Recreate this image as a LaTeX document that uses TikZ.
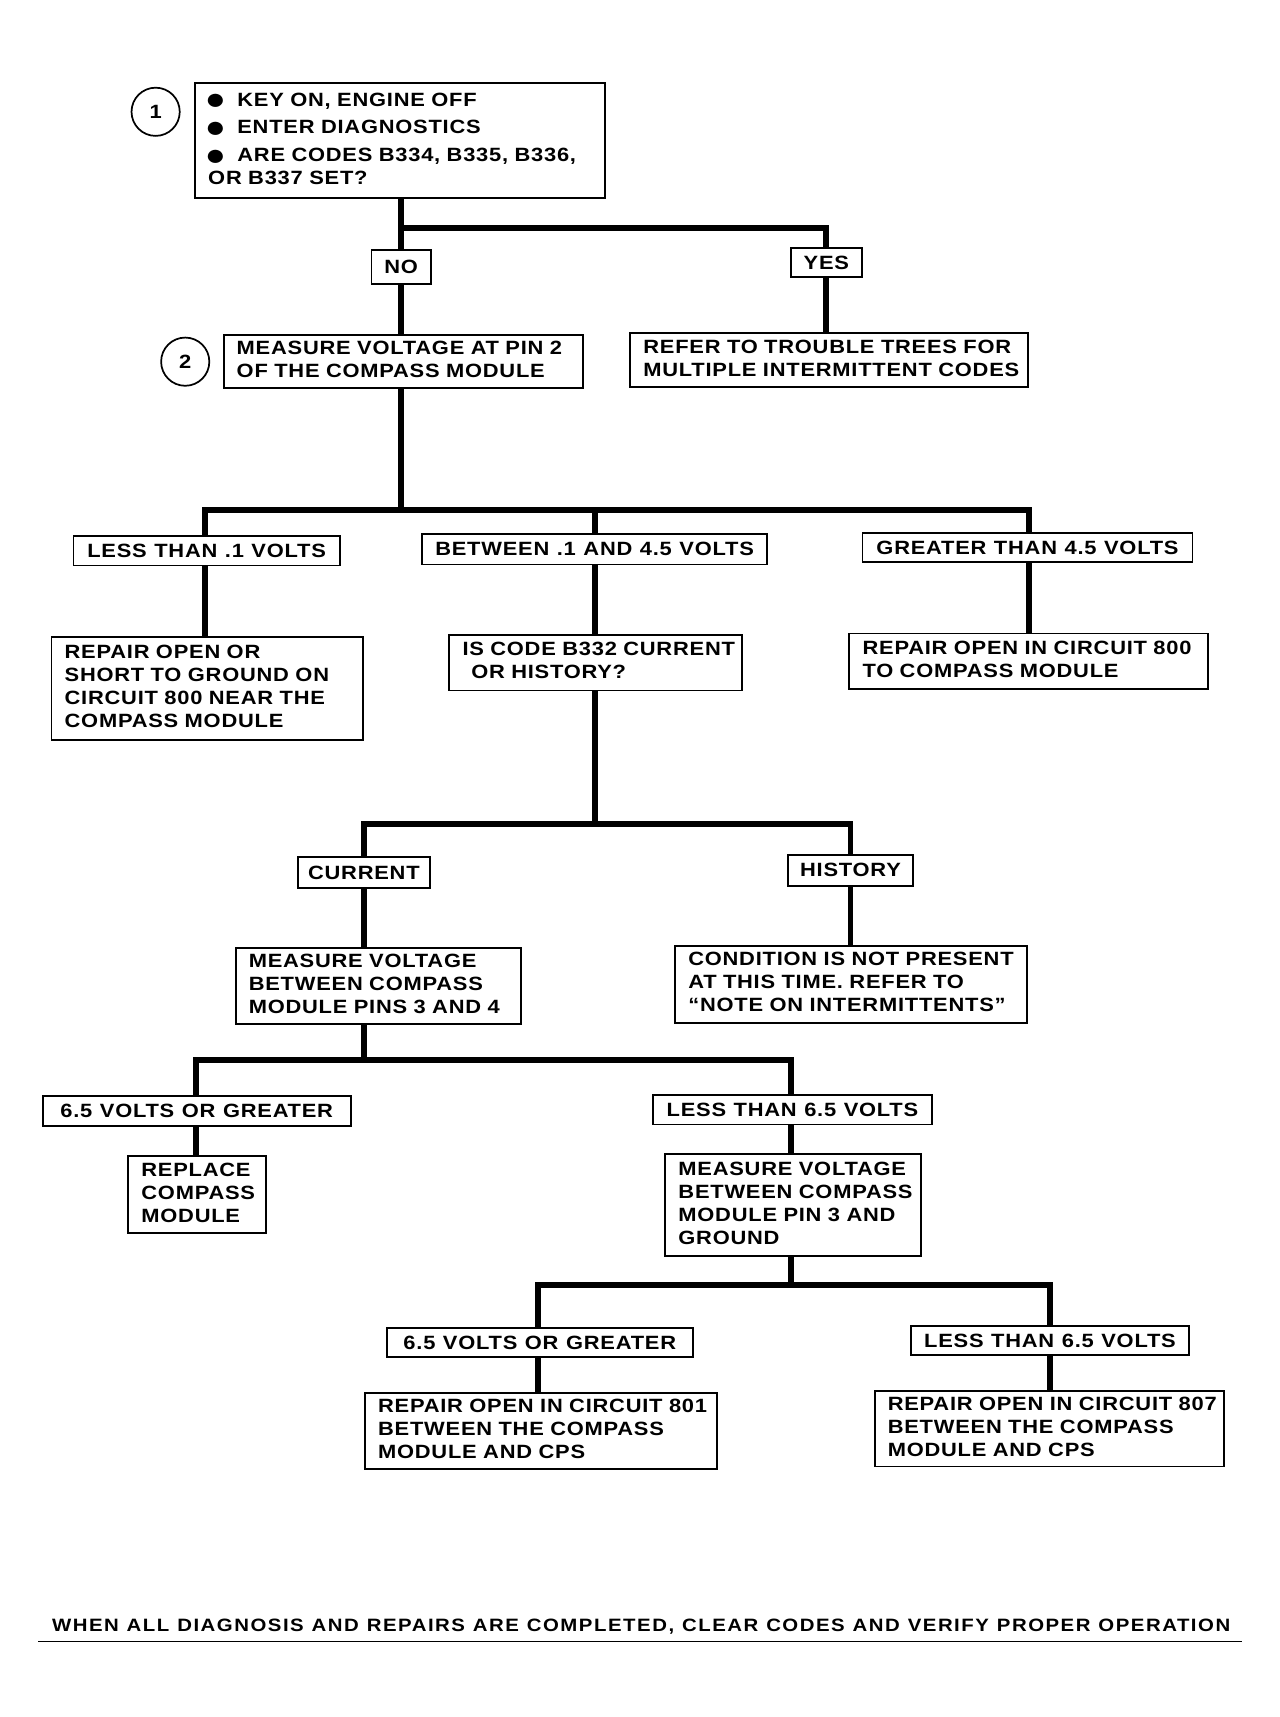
\documentclass[tikz,border=0pt]{standalone}
\usepackage{fontspec}
\usepackage{graphicx}
\setmainfont{Liberation Sans}[LetterSpace=4, FakeStretch=1.14, WordSpace=1.1, BoldFont={Liberation Sans Bold}]
\newcommand\pxu{0.8276pt}
\newcommand\bul{\makebox[22pt][l]{\hspace*{-2.5pt}\raisebox{-0.19em}{\scalebox{1.6}{●}}}}
\tikzset{
  fl/.style={font=\fontsize{14.5}{17.4}\selectfont\bfseries},
  box/.style={fl, draw, line width=1.4pt, rectangle, inner xsep=9.93pt, inner ysep=0pt, align=left, fill=white},
  lab/.style={fl, draw, line width=1.4pt, rectangle, inner sep=0pt, align=center, fill=white},
  numc/.style={fl, draw, circle, line width=1.3pt, inner sep=0pt, minimum size=36.4pt},
  conn/.style={line width=4.5pt}
}
\newcommand\bx[6]{%
  \pgfmathsetlengthmacro\bxw{#4*0.8276pt}%
  \pgfmathsetlengthmacro\bxh{#5*0.8276pt}%
  \pgfmathsetlengthmacro\bxt{(#4-24)*0.8276pt}%
  \node[box, minimum width=\bxw, minimum height=\bxh, text width=\bxt] (#1) at (#2,#3)
    {\begin{tabular}{@{}l@{}}#6\end{tabular}};}
\newcommand\lb[6]{%
  \pgfmathsetlengthmacro\bxw{#4*0.8276pt}%
  \pgfmathsetlengthmacro\bxh{#5*0.8276pt}%
  \node[lab, minimum width=\bxw, minimum height=\bxh] (#1) at (#2,#3) {#6};}
\begin{document}
\begin{tikzpicture}[x=0.8276pt, y=-0.8276pt]
\useasboundingbox (0,0) rectangle (1167,1566.6);
% junction points
\coordinate (j1) at (366,208);
\coordinate (j2) at (366,465);
\coordinate (j3) at (543,752);
\coordinate (j4) at (332,967);
\coordinate (j5) at (722,1172);
% connectors
\draw[conn] (366,181) coordinate (b1s) -- (j1);
\draw[conn] (j1) -- (366,306);
\draw[conn] (j1) -| (754,304);
\draw[conn] (366,354) -- (j2);
\draw[conn] (187,516) |- (j2) -| (939,486);
\draw[conn] (543,487) -- (543,465);
\draw[conn] (187,516) -- (187,581);
\draw[conn] (543,515) -- (543,579);
\draw[conn] (939,513) -- (939,578);
\draw[conn] (543,630) -- (j3);
\draw[conn] (332,865) |- (j3) -| (776,863);
\draw[conn] (332,934) -- (j4);
\draw[conn] (179,1055) |- (j4) -| (722,1053);
\draw[conn] (722,1146) -- (j5);
\draw[conn] (491,1271) |- (j5) -| (958,1269);
% step circles
\node[numc] (c1) at (142,102) {1};
\node[numc] (c2) at (169,330) {2};
% boxes
\bx{b1}{365}{128.5}{374}{105}{\bul KEY ON, ENGINE OFF\\[3.5pt] \bul ENTER DIAGNOSTICS\\[3.8pt] \bul ARE CODES B334, B335, B336,\\ OR B337 SET?}
\lb{no}{366}{243.5}{54}{31}{NO}
\lb{yes}{754}{239.5}{65}{27}{YES}
\bx{b2}{368}{330}{328}{48}{MEASURE VOLTAGE AT PIN 2\\ OF THE COMPASS MODULE}
\bx{ref}{756.5}{328.5}{363}{49}{REFER TO TROUBLE TREES FOR\\ MULTIPLE INTERMITTENT CODES}
\lb{less1}{188.5}{502.5}{243}{27}{LESS THAN .1 VOLTS}
\lb{btw}{542.5}{501}{315}{28}{BETWEEN .1 AND 4.5 VOLTS}
\lb{gt1}{937.5}{499.5}{301}{27}{GREATER THAN 4.5 VOLTS}
\bx{rep1}{189}{628}{284}{94}{REPAIR OPEN OR\\ SHORT TO GROUND ON\\ CIRCUIT 800 NEAR THE\\ COMPASS MODULE}
\bx{isc}{543.5}{604.5}{267}{51}{IS CODE B332 CURRENT\\ \hspace{6.6pt}OR HISTORY?}
\bx{rep800}{938.5}{603.5}{327}{51}{REPAIR OPEN IN CIRCUIT 800\\ TO COMPASS MODULE}
\lb{cur}{332}{796}{120}{28}{CURRENT}
\lb{his}{776}{794}{114}{28}{HISTORY}
\bx{m1}{345}{899.5}{260}{69}{MEASURE VOLTAGE\\ BETWEEN COMPASS\\ MODULE PINS 3 AND 4}
\bx{cond}{776.5}{898}{321}{70}{CONDITION IS NOT PRESENT\\ AT THIS TIME. REFER TO\\ “NOTE ON INTERMITTENTS”}
\lb{v65a}{179.5}{1013.5}{281}{27}{6.5 VOLTS OR GREATER}
\lb{lt65a}{723}{1012.5}{254}{27}{LESS THAN 6.5 VOLTS}
\bx{repl}{180}{1090}{126}{70}{REPLACE\\ COMPASS\\ MODULE}
\bx{m2}{723.5}{1099.5}{233}{93}{MEASURE VOLTAGE\\ BETWEEN COMPASS\\ MODULE PIN 3 AND\\ GROUND}
\lb{v65b}{492.5}{1225}{279}{26}{6.5 VOLTS OR GREATER}
\lb{lt65b}{958}{1223}{254}{26}{LESS THAN 6.5 VOLTS}
\bx{rep801}{493.5}{1305.5}{321}{69}{REPAIR OPEN IN CIRCUIT 801\\ BETWEEN THE COMPASS\\ MODULE AND CPS}
\bx{rep807}{957.5}{1303.5}{319}{69}{REPAIR OPEN IN CIRCUIT 807\\ BETWEEN THE COMPASS\\ MODULE AND CPS}
% footer
\node[font=\fontsize{13.5}{16}\selectfont\bfseries, inner sep=0pt] (foot) at (585,1484) {\addfontfeature{LetterSpace=8.5}WHEN ALL DIAGNOSIS AND REPAIRS ARE COMPLETED, CLEAR CODES AND VERIFY PROPER OPERATION};
\coordinate (fl) at (35,1498);
\coordinate (fr) at (1133,1498);
\draw[line width=0.8pt] (fl) -- (fr);
\end{tikzpicture}
\end{document}
